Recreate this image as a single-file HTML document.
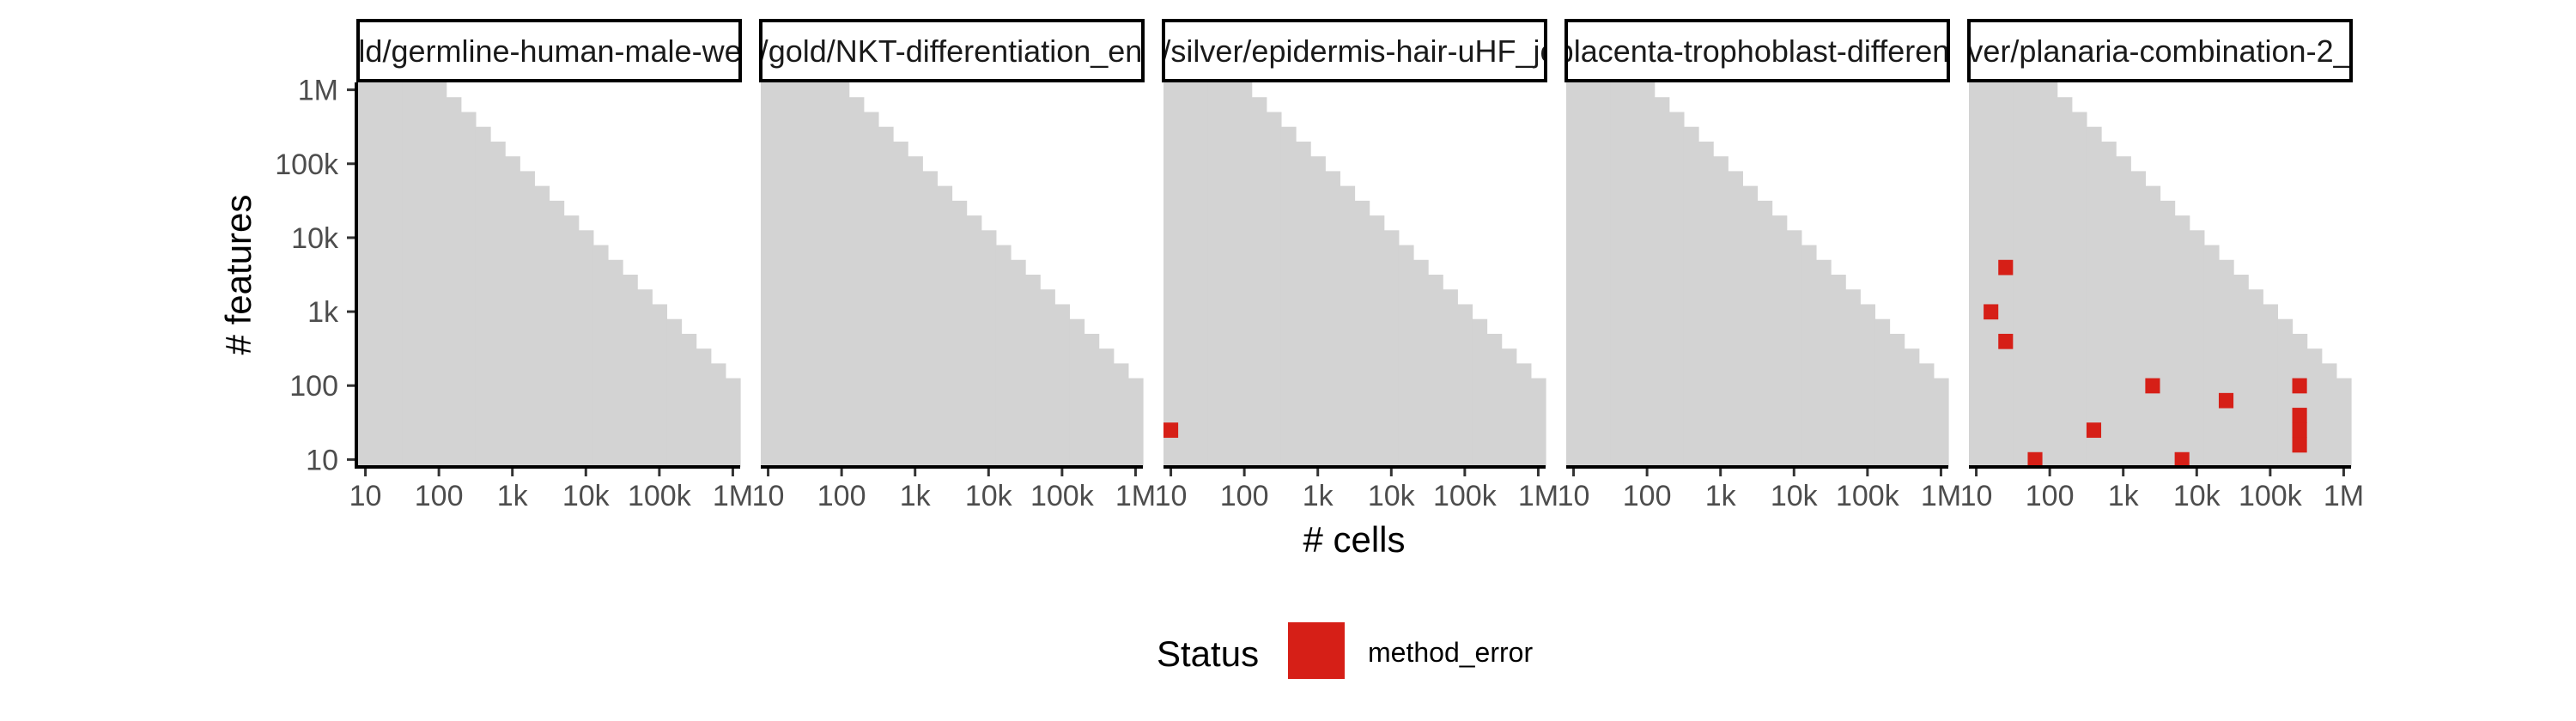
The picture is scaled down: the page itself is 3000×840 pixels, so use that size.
<!DOCTYPE html>
<html><head><meta charset="utf-8"><style>
html,body{margin:0;padding:0;background:#fff;}
svg{display:block;font-family:"Liberation Sans",Arial,sans-serif;}
</style></head><body>
<svg id="chart" width="3000" height="840" viewBox="0 0 3000 840" xmlns="http://www.w3.org/2000/svg">
<defs id="defs"></defs>
<g id="plot"></g>
<text x="0" y="0" transform="translate(292,320) rotate(-90)" text-anchor="middle" font-size="42" fill="#000">#&#160;features</text>
<text x="1577" y="643" text-anchor="middle" font-size="42" fill="#000"># cells</text>
<g>
<text x="1347" y="776" font-size="42" fill="#000">Status</text>
<rect x="1500" y="725" width="66" height="66" fill="#d61f17"></rect>
<text x="1593" y="771" font-size="32" fill="#000">method_error</text>
</g>
</svg>
<script>
const panelLabels = ["gold/germline-human-male-week", "l/gold/NKT-differentiation_ent", "r/silver/epidermis-hair-uHF_jo", "placenta-trophoblast-different", "ilver/planaria-combination-2_x"];
const tickExps = [1, 2, 3, 4, 5, 6];
const tickLabels = ["10", "100", "1k", "10k", "100k", "1M"];
// feasible region: log10(cells) + log10(features) <= maxLogSum
const maxLogSum = 8;
const gridExps = [1.0,1.2,1.4,1.6,1.8,2.0,2.2,2.4,2.6,2.8,3.0,3.2,3.4,3.6,3.8,4.0,4.2,4.4,4.6,4.8,5.0,5.2,5.4,5.6,5.8,6.0];
// method_error cells (log10 values)
const errPanel = [2, 4, 4, 4, 4, 4, 4, 4, 4, 4, 4, 4, 4];
const errCells = [1.0, 1.4, 1.2, 1.4, 3.4, 4.4, 5.4, 5.4, 5.4, 5.4, 2.6, 1.8, 3.8];
const errFeatures = [1.4, 3.6, 3.0, 2.6, 2.0, 1.8, 2.0, 1.6, 1.4, 1.2, 1.4, 1.0, 1.0];

const NS = "http://www.w3.org/2000/svg";
const lefts = [417, 886, 1355, 1824, 2293];
const PW = 445, PT = 96, PB = 544, DMIN = 0.9, DMAX = 6.1;
const PH = PB - PT;
function sx(p, v){ return lefts[p] + (v - DMIN) * PW / (DMAX - DMIN); }
function sy(v){ return PT + (DMAX - v) * PH / (DMAX - DMIN); }
function mk(tag, attrs, parent){
  const e = document.createElementNS(NS, tag);
  for (const k in attrs) e.setAttribute(k, attrs[k]);
  parent.appendChild(e);
  return e;
}
const plot = document.getElementById("plot");
const defs = document.getElementById("defs");
const half = 0.1;
for (let p = 0; p < panelLabels.length; p++) {
  const g = mk("g", {}, plot);
  
  
  gridExps.forEach(function(cx){
    const top = Math.min(gridExps[gridExps.length - 1], maxLogSum - cx);
    if (top < gridExps[0]) return;
    const x0 = sx(p, cx - half), x1 = sx(p, cx + half);
    const r = mk("rect", {x: x0, y: sy(top + half), width: x1 - x0 + 0.6, height: sy(DMIN) - sy(top + half), fill: "#d3d3d3"}, g);
    
    
  });
  for (let i = 0; i < errPanel.length; i++) {
    if (errPanel[i] !== p) continue;
    const x0 = sx(p, errCells[i] - half), x1 = sx(p, errCells[i] + half);
    const y0 = sy(errFeatures[i] + half), y1 = sy(errFeatures[i] - half);
    const r = mk("rect", {x: x0, y: y0, width: x1 - x0, height: y1 - y0 + 0.5, fill: "#d61f17"}, g);
    
    
  }
  const ax = mk("line", {x1: lefts[p], x2: lefts[p] + PW, y1: PB, y2: PB, stroke: "#000", "stroke-width": 4}, g);
  
  
  tickExps.forEach(function(t, k){
    const x = sx(p, t);
    const tk = mk("line", {x1: x, x2: x, y1: PB + 2, y2: PB + 11, stroke: "#333", "stroke-width": 3}, g);
    
    
    const tl = mk("text", {x: x, y: 589, "text-anchor": "middle", "font-size": 34, fill: "#4d4d4d"}, g);
    tl.textContent = tickLabels[k];
    
    
  });
  const cp = mk("clipPath", {id: "clip" + p}, defs);
  mk("rect", {x: lefts[p], y: 24, width: PW, height: 72}, cp);
  const st = mk("rect", {x: lefts[p], y: 24, width: PW, height: 70, fill: "#fff", stroke: "#000", "stroke-width": 4}, g);
  
  
  const sl = mk("text", {x: lefts[p] + PW / 2, y: 72, "text-anchor": "middle", "font-size": 36, fill: "#1a1a1a", "clip-path": "url(#clip" + p + ")"}, g);
  sl.textContent = panelLabels[p];
  
  
  const sb = mk("rect", {x: lefts[p], y: 24, width: PW, height: 70, fill: "none", stroke: "#000", "stroke-width": 4}, g);
  
  
}
const yg = mk("g", {}, plot);


const yl = mk("line", {x1: 415, x2: 415, y1: PT, y2: PB + 2, stroke: "#000", "stroke-width": 4}, yg);


tickExps.forEach(function(t, k){
  const y = sy(t);
  const tk = mk("line", {x1: 404, x2: 413, y1: y, y2: y, stroke: "#333", "stroke-width": 3}, yg);
  
  
  const tl = mk("text", {x: 394, y: y + 12, "text-anchor": "end", "font-size": 34, fill: "#4d4d4d"}, yg);
  tl.textContent = tickLabels[k];
  
  
});
</script>
</body></html>
